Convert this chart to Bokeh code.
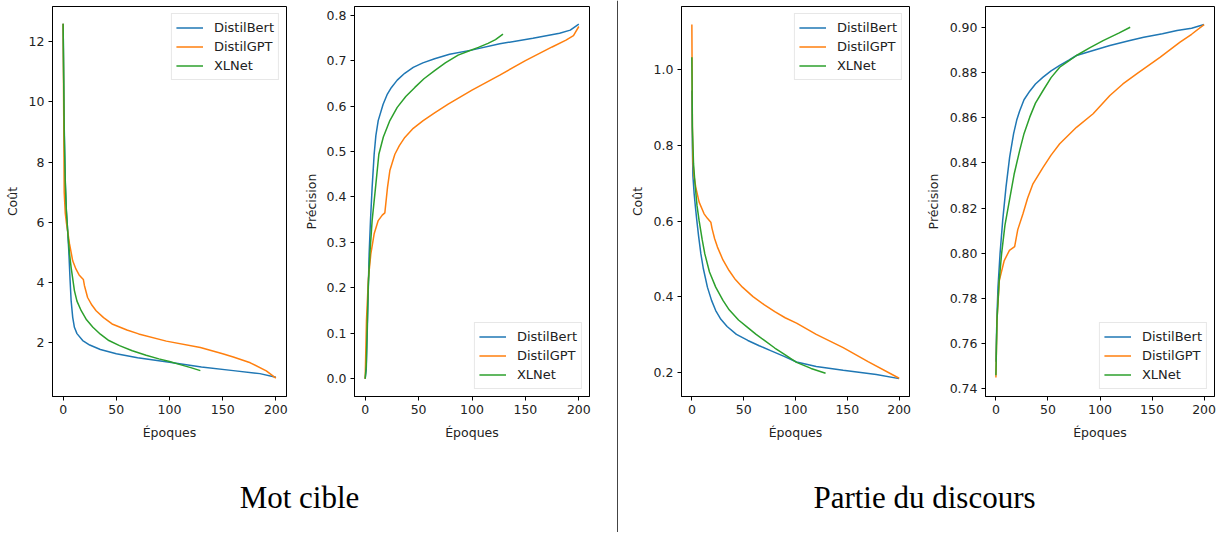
from bokeh.plotting import figure
from bokeh.models import Range1d, FixedTicker, PrintfTickFormatter, Span
from bokeh.layouts import row, column
from bokeh.core.properties import value
from bokeh.embed import file_html
from bokeh.resources import INLINE

# ---------------- data ----------------
MODELS = ["DistilBert", "DistilGPT", "XLNet"]
COLORS = ["#1f77b4", "#ff7f0e", "#2ca02c"]
CAPTIONS = ["Mot cible", "Partie du discours"]
X_LABEL = "Époques"
Y_LABELS = ["Coût", "Précision", "Coût", "Précision"]

X_TICKS = [0, 50, 100, 150, 200]
Y_TICKS_MC_COST = [2, 4, 6, 8, 10, 12]
Y_TICKS_MC_ACC = [0.0, 0.1, 0.2, 0.3, 0.4, 0.5, 0.6, 0.7, 0.8]
Y_TICKS_PD_COST = [0.2, 0.4, 0.6, 0.8, 1.0]
Y_TICKS_PD_ACC = [0.74, 0.76, 0.78, 0.80, 0.82, 0.84, 0.86, 0.88, 0.90]

# Mot cible - Coût
MC_COST_BERT_X = [0, 1, 2, 3, 4, 5.3, 6.5, 7.5, 9, 10.6, 13, 18.4, 25, 35, 50, 70, 100, 130, 160, 185, 200]
MC_COST_BERT_Y = [12.6, 9.2, 7.4, 6.4, 5.85, 5.06, 4.1, 3.4, 2.84, 2.51, 2.3, 2.07, 1.92, 1.77, 1.63, 1.5, 1.35, 1.19, 1.07, 0.97, 0.85]
MC_COST_GPT_X = [0, 1, 2, 3, 4.3, 6, 9, 12, 15, 19, 20, 23, 27, 31, 38, 46, 60, 71, 97, 129, 150, 160, 176, 191, 200]
MC_COST_GPT_Y = [12.6, 7.0, 6.3, 6.0, 5.7, 5.28, 4.72, 4.45, 4.25, 4.1, 3.9, 3.5, 3.25, 3.06, 2.83, 2.62, 2.42, 2.29, 2.05, 1.84, 1.63, 1.52, 1.33, 1.06, 0.82]
MC_COST_XL_X = [0, 1, 2, 3, 4.3, 6, 7.5, 10.6, 13, 17, 22, 28, 35, 43, 53, 65, 78, 90, 100, 110, 120, 129]
MC_COST_XL_Y = [12.6, 9.0, 7.3, 6.4, 5.7, 4.95, 4.5, 3.73, 3.38, 3.06, 2.76, 2.51, 2.28, 2.07, 1.9, 1.73, 1.58, 1.46, 1.37, 1.27, 1.17, 1.07]

# Mot cible - Précision
MC_ACC_BERT_X = [0, 1, 2.2, 3.7, 5, 6.5, 8.4, 10, 12.2, 16.8, 20.5, 24.6, 30, 37, 45, 54, 65, 79, 99.5, 126, 157, 182, 192, 200]
MC_ACC_BERT_Y = [0.0, 0.02, 0.128, 0.275, 0.35, 0.421, 0.494, 0.535, 0.568, 0.604, 0.625, 0.641, 0.657, 0.672, 0.685, 0.695, 0.704, 0.714, 0.723, 0.737, 0.749, 0.760, 0.767, 0.780]
MC_ACC_GPT_X = [0, 1.2, 3, 5.3, 8.4, 12.2, 16, 18.4, 20.9, 23.1, 27.8, 32, 37.1, 45, 54.3, 65, 77.7, 100, 126, 150, 175, 188, 195, 200]
MC_ACC_GPT_Y = [0.0, 0.128, 0.22, 0.275, 0.319, 0.348, 0.36, 0.365, 0.421, 0.458, 0.494, 0.513, 0.531, 0.551, 0.568, 0.585, 0.604, 0.635, 0.668, 0.700, 0.730, 0.745, 0.755, 0.775]
MC_ACC_XL_X = [0, 1, 2.8, 4.4, 6.5, 9.7, 12.8, 17, 23.1, 30, 38, 46.5, 55, 65, 75, 87, 97, 106, 115, 122, 129]
MC_ACC_XL_Y = [0.0, 0.03, 0.2, 0.275, 0.348, 0.421, 0.494, 0.532, 0.568, 0.597, 0.621, 0.641, 0.66, 0.678, 0.695, 0.712, 0.721, 0.729, 0.738, 0.746, 0.758]

# Partie du discours - Coût
PD_COST_BERT_X = [0, 0.5, 1, 2.2, 3.5, 4.8, 6.5, 8.7, 11, 15, 19, 23, 28, 34, 43, 54, 65, 76, 89, 101, 120, 146, 178, 200]
PD_COST_BERT_Y = [0.945, 0.8, 0.72, 0.672, 0.635, 0.601, 0.56, 0.513, 0.475, 0.425, 0.39, 0.363, 0.34, 0.321, 0.3, 0.284, 0.27, 0.257, 0.242, 0.227, 0.215, 0.205, 0.194, 0.183]
PD_COST_GPT_X = [0, 0.5, 1, 2, 3.8, 7, 11.8, 15, 18.3, 19.5, 22, 24.7, 30, 35.9, 42, 48.8, 59, 70, 80, 90, 101, 120, 146, 170, 200]
PD_COST_GPT_Y = [1.12, 0.85, 0.76, 0.72, 0.689, 0.65, 0.619, 0.607, 0.597, 0.58, 0.553, 0.531, 0.497, 0.469, 0.445, 0.425, 0.4, 0.378, 0.36, 0.344, 0.33, 0.30, 0.265, 0.228, 0.184]
PD_COST_XL_X = [0, 0.5, 1.6, 3, 5, 7, 10, 12.5, 17, 23, 30, 36, 45, 54, 62, 70, 80, 89, 101, 115, 129]
PD_COST_XL_Y = [1.033, 0.85, 0.751, 0.70, 0.64, 0.601, 0.55, 0.513, 0.465, 0.425, 0.39, 0.365, 0.338, 0.318, 0.3, 0.284, 0.264, 0.248, 0.226, 0.21, 0.197]

# Partie du discours - Précision
PD_ACC_BERT_X = [0, 1, 2, 4, 6.5, 9.7, 13.2, 17, 20, 22.8, 27, 32.5, 38, 45.3, 53, 61.3, 70, 77.4, 93.4, 109.5, 128.7, 142, 160, 174, 188, 200]
PD_ACC_BERT_Y = [0.752, 0.772, 0.785, 0.80, 0.8145, 0.8293, 0.8426, 0.853, 0.859, 0.863, 0.868, 0.8718, 0.875, 0.878, 0.8808, 0.8832, 0.8855, 0.8876, 0.8898, 0.892, 0.8942, 0.8957, 0.8972, 0.8987, 0.8997, 0.9013]
PD_ACC_GPT_X = [0, 1, 3.3, 8, 13, 18, 21, 26, 30.5, 35.6, 45.3, 53, 61.3, 77.4, 93.4, 109.5, 122, 135.2, 157.6, 176.9, 188, 200]
PD_ACC_GPT_Y = [0.745, 0.77, 0.788, 0.7968, 0.8013, 0.803, 0.8105, 0.8175, 0.8245, 0.8308, 0.8381, 0.8435, 0.8485, 0.8558, 0.8618, 0.8699, 0.875, 0.8795, 0.8868, 0.8935, 0.897, 0.9013]
PD_ACC_XL_X = [0, 1, 3, 5.5, 8.7, 13.2, 17.5, 22.8, 27, 32.5, 38, 45.3, 53, 61.3, 70, 77.4, 90, 103, 118, 129]
PD_ACC_XL_Y = [0.746, 0.770, 0.787, 0.80, 0.8125, 0.824, 0.835, 0.8455, 0.853, 0.8603, 0.8665, 0.8721, 0.8778, 0.8824, 0.8852, 0.8876, 0.891, 0.8942, 0.8975, 0.9001]

FONT = "DejaVu Sans"
TXT = "#222222"


def make_panel(width, left, right, yr, series, yticks, yfmt, ylabel, ylab_standoff, legend_loc):
    p = figure(width=width, height=450, x_range=Range1d(-10, 210), y_range=Range1d(*yr),
               output_backend="svg", toolbar_location=None,
               min_border_left=left, min_border_right=right, min_border_top=6, min_border_bottom=54)
    for (xs, ys), name, col in zip(series, MODELS, COLORS):
        p.line(xs, ys, line_color=col, line_width=1.5, legend_label=name)
    p.xgrid.visible = False
    p.ygrid.visible = False
    p.outline_line_color = "black"
    p.outline_line_alpha = 1
    p.outline_line_width = 1
    p.xaxis.ticker = FixedTicker(ticks=X_TICKS)
    p.yaxis.ticker = FixedTicker(ticks=yticks)
    p.xaxis.formatter = PrintfTickFormatter(format="%d")
    p.yaxis.formatter = PrintfTickFormatter(format=yfmt)
    p.xaxis.axis_label = X_LABEL
    p.yaxis.axis_label = ylabel
    for ax in p.axis:
        ax.axis_line_color = "black"
        ax.major_tick_line_color = "black"
        ax.major_tick_out = 4
        ax.major_tick_in = 0
        ax.minor_tick_line_color = None
        ax.major_label_standoff = 4
        ax.major_label_text_font = FONT
        ax.major_label_text_font_size = "12.5px"
        ax.major_label_text_color = TXT
        ax.axis_label_text_font = FONT
        ax.axis_label_text_font_size = "12.5px"
        ax.axis_label_text_font_style = "normal"
        ax.axis_label_text_color = TXT
    p.xaxis.axis_label_standoff = 8
    p.yaxis.axis_label_standoff = ylab_standoff
    leg = p.legend[0]
    leg.location = legend_loc
    leg.margin = 7
    leg.padding = 4
    leg.spacing = 0
    leg.label_height = 19
    leg.glyph_height = 19
    leg.glyph_width = 27
    leg.label_standoff = 11
    leg.label_text_font = FONT
    leg.label_text_font_size = "13px"
    leg.label_text_color = TXT
    leg.border_line_color = "#d0d0d0"
    leg.border_line_width = 1
    leg.background_fill_alpha = 0.8
    return p


f1 = make_panel(298, 52, 12, (0.21, 13.17),
                [(MC_COST_BERT_X, MC_COST_BERT_Y), (MC_COST_GPT_X, MC_COST_GPT_Y), (MC_COST_XL_X, MC_COST_XL_Y)],
                Y_TICKS_MC_COST, "%d", Y_LABELS[0], 6, "top_right")
f2 = make_panel(309, 56, 18, (-0.039, 0.819),
                [(MC_ACC_BERT_X, MC_ACC_BERT_Y), (MC_ACC_GPT_X, MC_ACC_GPT_Y), (MC_ACC_XL_X, MC_ACC_XL_Y)],
                Y_TICKS_MC_ACC, "%.1f", Y_LABELS[1], 5, "bottom_right")
f3 = make_panel(294, 58, 8, (0.1357, 1.1675),
                [(PD_COST_BERT_X, PD_COST_BERT_Y), (PD_COST_GPT_X, PD_COST_GPT_Y), (PD_COST_XL_X, PD_COST_XL_Y)],
                Y_TICKS_PD_COST, "%.1f", Y_LABELS[2], 6, "top_right")
f4 = make_panel(307, 68, 10, (0.7366, 0.9093),
                [(PD_ACC_BERT_X, PD_ACC_BERT_Y), (PD_ACC_GPT_X, PD_ACC_GPT_Y), (PD_ACC_XL_X, PD_ACC_XL_Y)],
                Y_TICKS_PD_ACC, "%.2f", Y_LABELS[3], 6, "bottom_right")


def make_caption(width, cx, text):
    c = figure(width=width, height=82, x_range=Range1d(0, width), y_range=Range1d(0, 82),
               output_backend="svg", toolbar_location=None, min_border=0,
               x_axis_type=None, y_axis_type=None, outline_line_color=None)
    c.text(x=[cx], y=[35], text=[text], text_align="center", text_baseline="alphabetic",
           text_font=value("Liberation Serif"), text_font_size=value("31px"), text_color="black")
    return c


cap1 = make_caption(607, 299, CAPTIONS[0])
cap2 = make_caption(601, 301, CAPTIONS[1])

dv = figure(width=16, height=532, x_range=Range1d(0, 16), y_range=Range1d(0, 532),
            output_backend="svg", toolbar_location=None, min_border=0,
            x_axis_type=None, y_axis_type=None, outline_line_color=None)
dv.add_layout(Span(location=10, dimension="height", line_color="#444444", line_width=1))

layout = row(column(row(f1, f2), cap1), dv, column(row(f3, f4), cap2))

open("out.html", "w").write(file_html(layout, INLINE))
